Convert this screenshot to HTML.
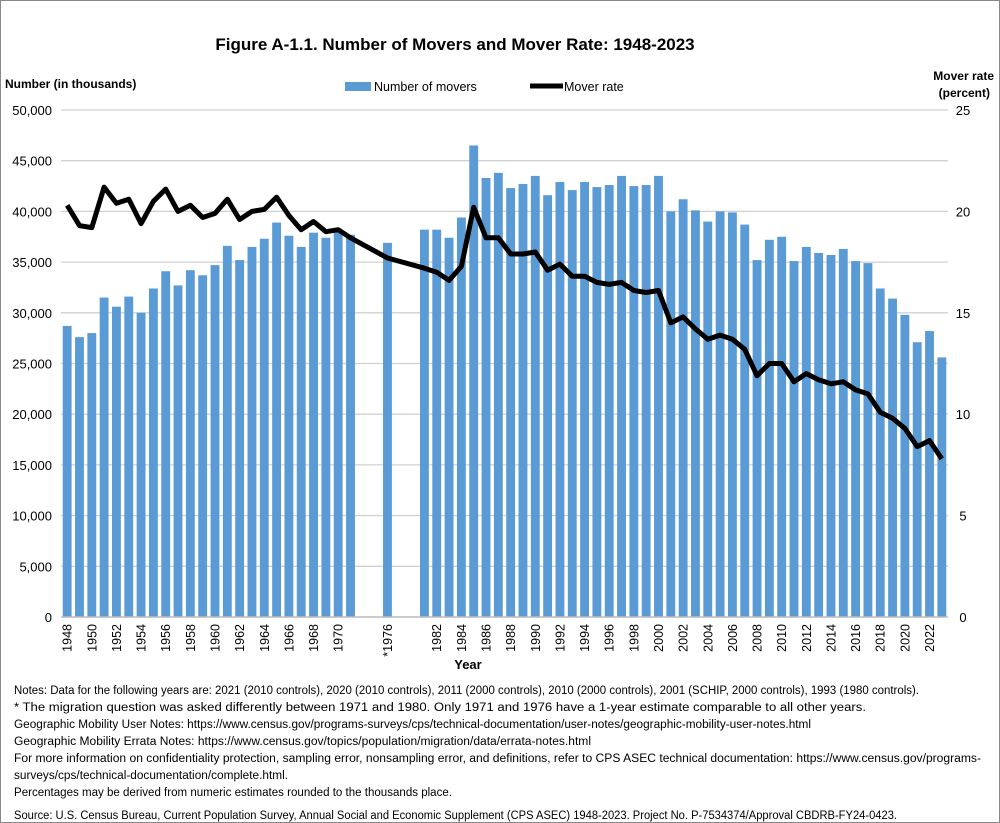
<!DOCTYPE html>
<html><head><meta charset="utf-8"><style>
body{margin:0;background:#fff}
svg{display:block;font-family:"Liberation Sans",sans-serif}
</style></head><body>
<svg id="chart" width="1000" height="823" viewBox="0 0 1000 823">
<rect x="0.5" y="0.5" width="999" height="822" fill="#fff" stroke="#888"/>
<text x="455" y="50" text-anchor="middle" font-size="17" font-weight="bold">Figure A-1.1. Number of Movers and Mover Rate: 1948-2023</text>
<text x="5" y="88" font-size="12" font-weight="bold">Number (in thousands)</text>
<text x="994" y="80" text-anchor="end" font-size="12" font-weight="bold">Mover rate</text>
<text x="990" y="97" text-anchor="end" font-size="12" font-weight="bold">(percent)</text>
<g>
<rect x="345" y="82" width="26" height="9" fill="#5b9bd5"/>
<text x="374" y="91" font-size="12.5">Number of movers</text>
<line x1="530" y1="86" x2="563" y2="86" stroke="#000" stroke-width="5"/>
<text x="564" y="91" font-size="12.5">Mover rate</text>
</g>
<g id="grid"></g><g id="bars"></g><g id="line"></g><g id="axes"></g>
<text x="468" y="669" text-anchor="middle" font-size="13" font-weight="bold">Year</text>
<g font-size="11.5" fill="#000">
<text x="14" y="694" textLength="905" lengthAdjust="spacingAndGlyphs">Notes: Data for the following years are: 2021 (2010 controls), 2020 (2010 controls), 2011 (2000 controls), 2010 (2000 controls), 2001 (SCHIP, 2000 controls), 1993 (1980 controls).</text>
<text x="14" y="711" textLength="852" lengthAdjust="spacingAndGlyphs">* The migration question was asked differently between 1971 and 1980. Only 1971 and 1976 have a 1-year estimate comparable to all other years.</text>
<text x="14" y="728" textLength="797" lengthAdjust="spacingAndGlyphs">Geographic Mobility User Notes: https://www.census.gov/programs-surveys/cps/technical-documentation/user-notes/geographic-mobility-user-notes.html</text>
<text x="14" y="745" textLength="577" lengthAdjust="spacingAndGlyphs">Geographic Mobility Errata Notes: https://www.census.gov/topics/population/migration/data/errata-notes.html</text>
<text x="14" y="762" textLength="967" lengthAdjust="spacingAndGlyphs">For more information on confidentiality protection, sampling error, nonsampling error, and definitions, refer to CPS ASEC technical documentation: https://www.census.gov/programs-</text>
<text x="14" y="779" textLength="274" lengthAdjust="spacingAndGlyphs">surveys/cps/technical-documentation/complete.html.</text>
<text x="14" y="796" textLength="438" lengthAdjust="spacingAndGlyphs">Percentages may be derived from numeric estimates rounded to the thousands place.</text>
<text x="14" y="819" textLength="883" lengthAdjust="spacingAndGlyphs">Source: U.S. Census Bureau, Current Population Survey, Annual Social and Economic Supplement  (CPS ASEC) 1948-2023. Project No. P-7534374/Approval CBDRB-FY24-0423.</text>
</g>
</svg>
<script>
const years = [1948,1949,1950,1951,1952,1953,1954,1955,1956,1957,1958,1959,1960,1961,1962,1963,1964,1965,1966,1967,1968,1969,1970,1971,null,null,1976,null,null,1981,1982,1983,1984,1985,1986,1987,1988,1989,1990,1991,1992,1993,1994,1995,1996,1997,1998,1999,2000,2001,2002,2003,2004,2005,2006,2007,2008,2009,2010,2011,2012,2013,2014,2015,2016,2017,2018,2019,2020,2021,2022,2023];
const xLabels = ["1948","","1950","","1952","","1954","","1956","","1958","","1960","","1962","","1964","","1966","","1968","","1970","","","","*1976","","","","1982","","1984","","1986","","1988","","1990","","1992","","1994","","1996","","1998","","2000","","2002","","2004","","2006","","2008","","2010","","2012","","2014","","2016","","2018","","2020","","2022",""];
const movers = [28.7,27.6,28.0,31.5,30.6,31.6,30.0,32.4,34.1,32.7,34.2,33.7,34.7,36.6,35.2,36.5,37.3,38.9,37.6,36.5,37.9,37.4,38.1,37.7,null,null,36.9,null,null,38.2,38.2,37.4,39.4,46.5,43.3,43.8,42.3,42.7,43.5,41.6,42.9,42.1,42.9,42.4,42.6,43.5,42.5,42.6,43.5,40.0,41.2,40.1,39.0,40.0,39.9,38.7,35.2,37.2,37.5,35.1,36.5,35.9,35.7,36.3,35.1,34.9,32.4,31.4,29.8,27.1,28.2,25.6];
const rate = [20.3,19.3,19.2,21.2,20.4,20.6,19.4,20.5,21.1,20.0,20.3,19.7,19.9,20.6,19.6,20.0,20.1,20.7,19.8,19.1,19.5,19.0,19.1,18.7,null,null,17.7,null,null,17.2,17.0,16.6,17.3,20.2,18.7,18.7,17.9,17.9,18.0,17.1,17.4,16.8,16.8,16.5,16.4,16.5,16.1,16.0,16.1,14.5,14.8,14.2,13.7,13.9,13.7,13.2,11.9,12.5,12.5,11.6,12.0,11.7,11.5,11.6,11.2,11.0,10.1,9.8,9.3,8.4,8.7,7.8];
const leftTicks = [0,5000,10000,15000,20000,25000,30000,35000,40000,45000,50000];
const rightTicks = [0,5,10,15,20,25];

const NS="http://www.w3.org/2000/svg";
const X0=61, X1=948, Y0=617, Y1=110;
const step=(X1-X0)/years.length;
const xc=i=>X0+step*(i+0.5);
const yL=v=>Y0-(v/50)*(Y0-Y1);       // thousands
const yR=v=>Y0-(v/25)*(Y0-Y1);
function mk(tag,attrs,parent){const e=document.createElementNS(NS,tag);for(const k in attrs)e.setAttribute(k,attrs[k]);parent.appendChild(e);return e;}
const grid=document.getElementById('grid'),bars=document.getElementById('bars'),line=document.getElementById('line'),axes=document.getElementById('axes');

leftTicks.forEach(t=>{
  const y=yL(t/1000);
  if(t>0){const g=mk('line',{x1:X0,x2:X1,y1:y,y2:y,stroke:'#d0d0d0','stroke-width':1.3},grid);
  
  }
  const tx=mk('text',{x:52,y:y+5,'text-anchor':'end','font-size':13},axes);
  tx.textContent=t.toLocaleString('en-US');
  
  
});
rightTicks.forEach(t=>{
  const tx=mk('text',{x:963,y:yR(t)+5,'text-anchor':'middle','font-size':13},axes);
  tx.textContent=String(t);
  
  
});
const ax=mk('line',{x1:X0,x2:X1,y1:Y0,y2:Y0,stroke:'#bbb','stroke-width':1.5},axes);



const bw=step*0.72;
movers.forEach((v,i)=>{
  if(v==null)return;
  const r=mk('rect',{x:xc(i)-bw/2,y:yL(v),width:bw,height:Y0-yL(v),fill:'#5b9bd5'},bars);
  
  
});
let pts=[];
rate.forEach((v,i)=>{if(v!=null)pts.push(xc(i).toFixed(1)+','+yR(v).toFixed(1));});
const pl=mk('polyline',{points:pts.join(' '),fill:'none',stroke:'#000','stroke-width':5,'stroke-linejoin':'round'},line);



xLabels.forEach((l,i)=>{
  if(!l)return;
  const x=xc(i)+4.5,y=624;
  const t=mk('text',{x:x,y:y,'text-anchor':'end','font-size':12.5,transform:`rotate(-90 ${x} ${y})`},axes);
  t.textContent=l;
  
  
});
</script>
</body></html>
